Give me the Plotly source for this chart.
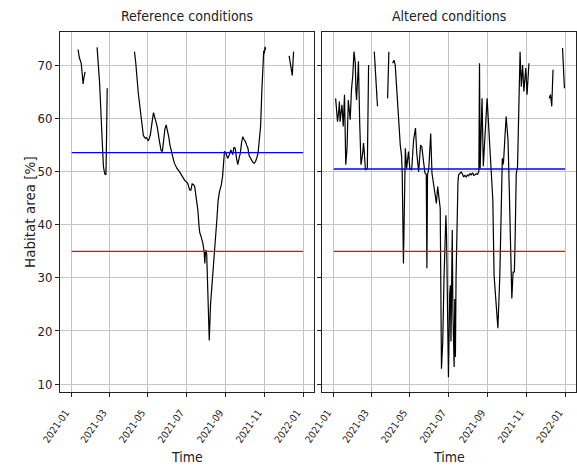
import plotly.graph_objects as go

# ---------------- data ----------------
ref_dates = [
    "2021-01-11", "2021-01-13", "2021-01-16", "2021-01-19", "2021-01-20", "2021-01-22",
    "2021-01-30",
    "2021-02-10", "2021-02-14", "2021-02-18", "2021-02-20", "2021-02-22", "2021-02-24",
    "2021-02-25", "2021-02-26",
    "2021-03-15",
    "2021-04-10", "2021-04-12", "2021-04-16", "2021-04-19", "2021-04-22", "2021-04-24",
    "2021-04-27", "2021-04-29", "2021-05-02", "2021-05-05", "2021-05-08", "2021-05-10",
    "2021-05-13", "2021-05-16", "2021-05-19", "2021-05-22", "2021-05-24", "2021-05-26",
    "2021-05-28", "2021-05-30", "2021-06-01", "2021-06-03", "2021-06-05", "2021-06-07",
    "2021-06-10", "2021-06-12", "2021-06-16", "2021-06-20", "2021-06-24", "2021-06-28",
    "2021-07-03", "2021-07-06", "2021-07-08", "2021-07-10", "2021-07-12", "2021-07-14",
    "2021-07-17", "2021-07-19", "2021-07-21", "2021-07-22", "2021-07-24", "2021-07-27",
    "2021-07-29", "2021-07-30", "2021-07-31", "2021-08-01", "2021-08-02", "2021-08-06",
    "2021-08-08", "2021-08-12", "2021-08-15", "2021-08-18", "2021-08-20", "2021-08-22",
    "2021-08-25", "2021-08-27", "2021-08-30", "2021-09-01", "2021-09-04", "2021-09-06",
    "2021-09-09", "2021-09-12", "2021-09-14", "2021-09-16", "2021-09-18", "2021-09-20",
    "2021-09-22", "2021-09-24", "2021-09-26", "2021-09-28", "2021-09-30", "2021-10-02",
    "2021-10-04", "2021-10-06", "2021-10-08", "2021-10-10", "2021-10-12", "2021-10-14",
    "2021-10-16", "2021-10-18", "2021-10-20", "2021-10-22", "2021-10-24", "2021-10-26",
    "2021-10-28", "2021-10-30", "2021-10-31", "2021-11-01", "2021-11-02", "2021-11-03",
    "2021-11-20",
    "2021-12-10", "2021-12-15", "2021-12-17",
]
ref_values = [
    73.0, 71.5, 70.4, 66.5, 67.5, 68.8,
    None,
    73.4, 66.7, 56.0, 51.0, 49.6, 49.4,
    57.0, 65.7,
    None,
    72.6, 70.5, 64.8, 61.5, 58.5, 56.8,
    56.3, 56.4, 55.8, 56.9, 59.5, 61.1,
    59.8, 58.4, 56.0, 54.0, 53.8, 56.0,
    58.0, 58.8, 57.8, 56.6, 55.0, 53.8,
    52.5, 51.6, 50.6, 50.0, 49.2, 48.4,
    47.8, 46.6, 46.5, 47.7, 47.6, 47.2,
    44.5, 42.8, 39.5, 38.5, 37.8, 36.5,
    34.8, 32.7, 35.0, 35.2, 34.3, 18.2,
    25.0, 30.8, 35.9, 41.0, 44.6, 46.2,
    47.5, 49.1, 53.8, 53.6, 52.5, 53.0,
    54.1, 53.2, 54.6, 54.4, 52.5, 51.3,
    52.5, 53.5, 55.5, 56.6, 56.0, 55.7,
    55.0, 54.4, 53.0, 52.5, 52.0, 51.7,
    51.6, 51.9, 52.6, 53.5, 56.0, 58.5,
    65.4, 70.5, 72.8, 72.3, 73.5, 73.0,
    None,
    71.8, 68.1, 72.6,
]

alt_dates = [
    "2021-01-04", "2021-01-06", "2021-01-07", "2021-01-09", "2021-01-10", "2021-01-11",
    "2021-01-13", "2021-01-14", "2021-01-16", "2021-01-18", "2021-01-20", "2021-01-22",
    "2021-01-24", "2021-01-26", "2021-01-27", "2021-01-29", "2021-01-31", "2021-02-02",
    "2021-02-04", "2021-02-05", "2021-02-06", "2021-02-08", "2021-02-09", "2021-02-11",
    "2021-02-13", "2021-02-14", "2021-02-16", "2021-02-17", "2021-02-18", "2021-02-20",
    "2021-02-22", "2021-02-23", "2021-02-25",
    "2021-03-01",
    "2021-03-06", "2021-03-08", "2021-03-11",
    "2021-03-20",
    "2021-03-27", "2021-03-29",
    "2021-03-31",
    "2021-04-04", "2021-04-06", "2021-04-08", "2021-04-10", "2021-04-12", "2021-04-14",
    "2021-04-16", "2021-04-18", "2021-04-19", "2021-04-21", "2021-04-23", "2021-04-24",
    "2021-04-26", "2021-04-29", "2021-05-01", "2021-05-03", "2021-05-04", "2021-05-07",
    "2021-05-10", "2021-05-12", "2021-05-15", "2021-05-18", "2021-05-20", "2021-05-23",
    "2021-05-25", "2021-05-27", "2021-05-28", "2021-05-29", "2021-05-31", "2021-06-03",
    "2021-06-05", "2021-06-07", "2021-06-10", "2021-06-12", "2021-06-14", "2021-06-16",
    "2021-06-18", "2021-06-20", "2021-06-21", "2021-06-22", "2021-06-24", "2021-06-26",
    "2021-06-27", "2021-06-28", "2021-06-29", "2021-07-01", "2021-07-03", "2021-07-04",
    "2021-07-05", "2021-07-06", "2021-07-07", "2021-07-08", "2021-07-09", "2021-07-10",
    "2021-07-11", "2021-07-12", "2021-07-13", "2021-07-14", "2021-07-15", "2021-07-16",
    "2021-07-17", "2021-07-19", "2021-07-21", "2021-07-23", "2021-07-25", "2021-07-27",
    "2021-07-29", "2021-07-31", "2021-08-02", "2021-08-04", "2021-08-06", "2021-08-08",
    "2021-08-10", "2021-08-12", "2021-08-14", "2021-08-16", "2021-08-18", "2021-08-19",
    "2021-08-20", "2021-08-23", "2021-08-25", "2021-08-31", "2021-09-04", "2021-09-09",
    "2021-09-11", "2021-09-12", "2021-09-14", "2021-09-17", "2021-09-20", "2021-09-23",
    "2021-09-24", "2021-09-25", "2021-09-26", "2021-09-30", "2021-10-03", "2021-10-05",
    "2021-10-07", "2021-10-09", "2021-10-11", "2021-10-13", "2021-10-14", "2021-10-15",
    "2021-10-16", "2021-10-18", "2021-10-20", "2021-10-22", "2021-10-24", "2021-10-26",
    "2021-10-28", "2021-10-31", "2021-11-02", "2021-11-05",
    "2021-11-20",
    "2021-12-07", "2021-12-09", "2021-12-11", "2021-12-13",
    "2021-12-20",
    "2021-12-28", "2021-12-31",
]
alt_values = [
    63.8, 60.0, 59.4, 61.6, 63.2, 59.4,
    62.0, 62.6, 58.5, 64.5, 51.3, 54.4,
    63.5, 61.0, 59.8, 65.4, 68.0, 72.6,
    70.4, 65.4, 63.5, 68.0, 70.8, 59.1,
    51.3, 52.0, 53.8, 55.4, 54.0, 50.3,
    50.5, 50.6, 70.1,
    None,
    72.6, 68.0, 62.3,
    None,
    63.8, 72.6,
    None,
    70.4, 71.0, 70.1, 66.0, 62.5, 60.0,
    55.0, 53.0, 50.0, 32.7, 52.2, 54.4,
    50.6, 53.8, 50.6, 50.5, 50.3, 56.0,
    58.2, 53.5, 50.0, 55.0, 54.7, 51.6,
    49.7, 49.5, 31.8, 49.4, 50.6, 57.2,
    49.7, 48.1, 45.9, 44.0, 47.2, 44.5,
    43.1, 12.9, 15.0, 17.9, 30.0, 40.9,
    41.8, 38.0, 25.0, 11.3, 27.0, 28.6,
    18.0, 30.0, 39.0, 24.0, 14.0, 13.2,
    26.0, 15.1, 30.0, 39.0, 44.7, 48.0,
    49.4, 49.7, 49.9, 49.6, 49.0, 49.3,
    49.0, 49.4, 49.2, 49.6, 49.4, 49.8,
    49.3, 49.4, 49.6, 49.5, 50.0, 70.4,
    50.6, 63.8, 51.0, 63.8, 55.0, 44.7,
    30.5, 28.6, 26.0, 20.5, 30.2, 44.7,
    52.5, 51.3, 52.0, 60.4, 56.0, 46.5,
    32.1, 26.1, 31.1, 31.1, 36.0, 45.0,
    49.7, 50.9, 62.0, 72.6, 66.0, 70.1,
    65.1, 69.5, 64.5, 70.4,
    None,
    63.8, 64.5, 62.3, 69.2,
    None,
    73.3, 65.7,
]

line_start = "2021-01-01"
line_end = "2022-01-01"
ref_mean = 53.6
alt_mean = 50.5
threshold = 35.0

panel_titles = ["Reference conditions", "Altered conditions"]
y_title = "Habitat area [%]"
x_title = "Time"
y_ticks = [10, 20, 30, 40, 50, 60, 70]

# ---------------- figure ----------------
fig = go.Figure()

for xa, ya, dates, vals, mean in [
    ("x", "y", ref_dates, ref_values, ref_mean),
    ("x2", "y2", alt_dates, alt_values, alt_mean),
]:
    fig.add_trace(go.Scatter(x=dates, y=vals, mode="lines", connectgaps=False,
                             line=dict(color="black", width=1.2),
                             xaxis=xa, yaxis=ya, showlegend=False, hoverinfo="skip"))
    fig.add_trace(go.Scatter(x=[line_start, line_end], y=[mean, mean], mode="lines",
                             line=dict(color="#0000ff", width=1.3),
                             xaxis=xa, yaxis=ya, showlegend=False, hoverinfo="skip"))
    fig.add_trace(go.Scatter(x=[line_start, line_end], y=[threshold, threshold], mode="lines",
                             line=dict(color="#ff0000", width=1.3),
                             xaxis=xa, yaxis=ya, showlegend=False, hoverinfo="skip"))

narrow = "Liberation Sans Narrow, Arial Narrow, DejaVu Sans Condensed, sans-serif"
xrange_ = ["2020-12-13 12:00", "2022-01-18 06:00"]
yrange_ = [8.5, 76.3]

common_x = dict(type="date", range=xrange_, tick0="2021-01-01", dtick="M2",
                tickformat="%Y-%m", tickangle=-55, ticks="outside", ticklen=4,
                tickcolor="#222", tickwidth=1, ticklabelshift=-6, ticklabelstandoff=6,
                tickfont=dict(family=narrow, size=10, color="#222"),
                showgrid=True, gridcolor="#c4c4c4", gridwidth=1,
                showline=True, linecolor="#222", linewidth=1, mirror=True,
                zeroline=False, fixedrange=True, automargin=False)
common_y = dict(range=yrange_, tickvals=y_ticks, ticks="outside", ticklen=4,
                tickcolor="#222", tickwidth=1,
                tickfont=dict(family=narrow, size=13, color="#222"),
                showgrid=True, gridcolor="#c4c4c4", gridwidth=1,
                showline=True, linecolor="#222", linewidth=1, mirror=True,
                zeroline=False, fixedrange=True, automargin=False)

W, H = 577, 466
ml, mr, mt, mb = 60, 1, 32, 74
pw = W - ml - mr
d1 = [0, 254 / pw]
d2 = [262 / pw, 1]

fig.update_layout(
    width=W, height=H,
    margin=dict(l=ml, r=mr, t=mt, b=mb, pad=0, autoexpand=False),
    paper_bgcolor="white", plot_bgcolor="white",
    xaxis=dict(domain=d1, anchor="y", **common_x),
    xaxis2=dict(domain=d2, anchor="y2", **common_x),
    yaxis=dict(domain=[0, 1], anchor="x", showticklabels=True, **common_y),
    yaxis2=dict(domain=[0, 1], anchor="x2", showticklabels=False, matches="y", **common_y),
)

anns = []
for dom, title in zip([d1, d2], panel_titles):
    cx = (dom[0] + dom[1]) / 2
    anns.append(dict(text=title, x=cx, y=1, xref="paper", yref="paper",
                     xanchor="center", yanchor="bottom", yshift=6, showarrow=False,
                     font=dict(family=narrow, size=14, color="#222")))
    anns.append(dict(text=x_title, x=cx, y=0, xref="paper", yref="paper",
                     xanchor="center", yanchor="middle", yshift=-65, showarrow=False,
                     font=dict(family=narrow, size=14, color="#222")))
anns.append(dict(text=y_title, x=0, y=0.5, xref="paper", yref="paper",
                 xanchor="center", yanchor="middle", xshift=-30, textangle=-90,
                 showarrow=False, font=dict(family="DejaVu Sans, sans-serif", size=13.5, color="#222")))
fig.update_layout(annotations=anns)

fig.write_html("out.html", config={"displayModeBar": False},
               post_script="document.body.style.margin='0';")
